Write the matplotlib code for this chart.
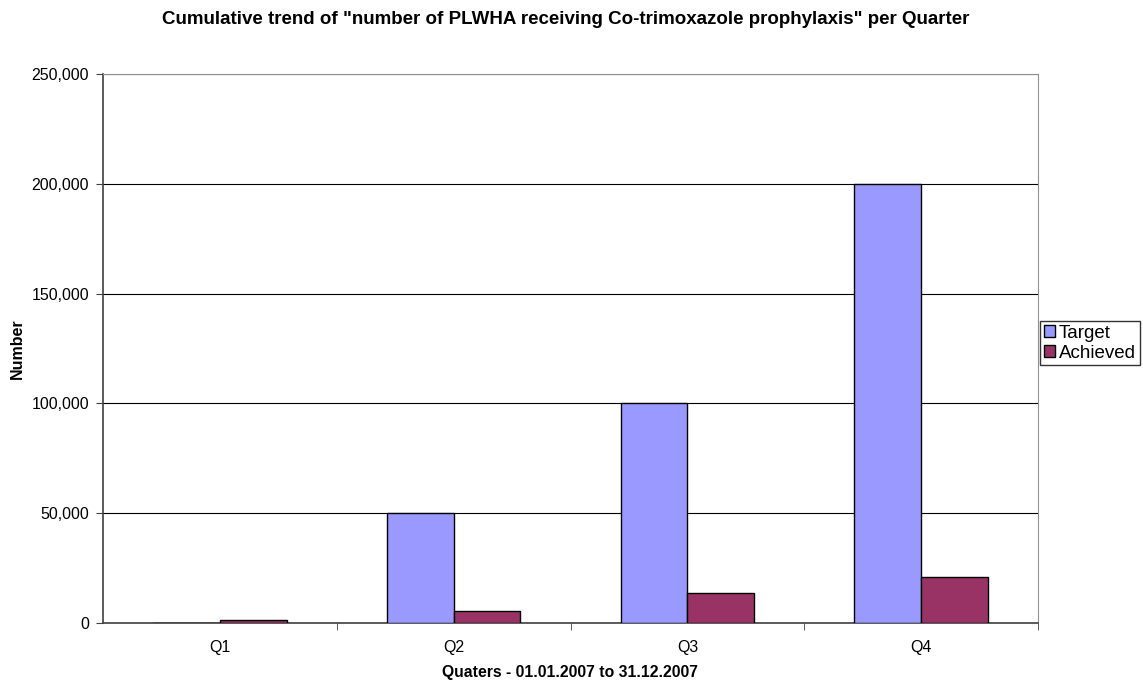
import matplotlib.pyplot as plt
import numpy as np
from matplotlib.ticker import FuncFormatter

plt.rcParams['font.family'] = ['Liberation Sans', 'DejaVu Sans']

quarters = ['Q1', 'Q2', 'Q3', 'Q4']
target = [0, 50000, 100000, 200000]
achieved = [1500, 5500, 13500, 20800]

fig = plt.figure(figsize=(11.43, 6.84), dpi=100)
ax = fig.add_axes([103/1143, 61/684, 935/1143, 549/684])

x = np.arange(len(quarters))
w = 1/3.5  # excel gap width 150%
ax.bar(x - w/2, target, w, color='#9999FF', edgecolor='black', linewidth=1, label='Target', zorder=3)
ax.bar(x + w/2, achieved, w, color='#993366', edgecolor='black', linewidth=1, label='Achieved', zorder=3)

ax.set_xlim(-0.5, 3.5)
ax.set_ylim(0, 250000)
ax.set_yticks(np.arange(0, 250001, 50000))
ax.yaxis.set_major_formatter(FuncFormatter(lambda v, p: f'{int(v):,}'))
ax.set_xticks(x)
ax.set_xticklabels(quarters)
ax.set_xticks([0.5, 1.5, 2.5, 3.5], minor=True)
ax.tick_params(axis='x', which='major', length=0, labelsize=11.5, pad=12)
ax.tick_params(axis='x', which='minor', length=5, color='#404040', direction='out')
ax.tick_params(axis='y', length=5, color='#404040', labelsize=11.5, pad=5)
ax.grid(axis='y', color='black', linewidth=0.8, zorder=0)

for s in ['top', 'right']:
    ax.spines[s].set_color('#909090')
for s in ['left', 'bottom']:
    ax.spines[s].set_color('#404040')
    ax.spines[s].set_linewidth(1.2)

ax.set_xlabel('Quaters - 01.01.2007 to 31.12.2007', fontsize=11.3, fontweight='bold', va='center')
ax.xaxis.set_label_coords(0.5, (623 - 672) / 549)
ax.set_ylabel('Number', fontsize=11.5, fontweight='bold', va='center')
ax.yaxis.set_label_coords((17 - 103) / 935, 0.5)
fig.text(566/1143, 1 - 19/684, 'Cumulative trend of "number of PLWHA receiving Co-trimoxazole prophylaxis" per Quarter',
         ha='center', va='center', fontsize=13.5, fontweight='bold')

fig.legend(loc='upper left', bbox_to_anchor=(1040/1143, 1 - 321/684), frameon=True, fancybox=False,
           edgecolor='black', fontsize=13.5, handlelength=0.6, handleheight=0.6, handletextpad=0.2,
           borderpad=0.2, labelspacing=0.15, borderaxespad=0)

fig.savefig('out.png', dpi=100)
